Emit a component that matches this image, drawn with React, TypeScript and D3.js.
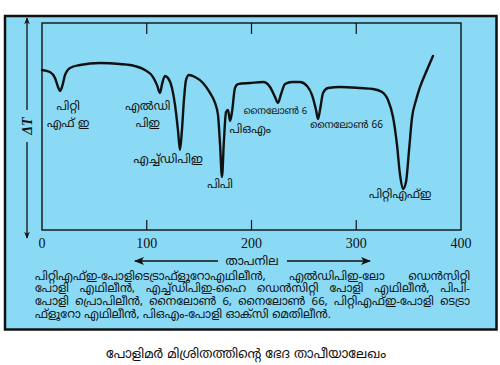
import React, { useLayoutEffect, useRef } from "react";
import * as d3 from "d3";

// DTA curve: temperature (°C) vs ΔT (arbitrary units)
const temps = [0, 7.6, 12.4, 15.3, 17.2, 19.1, 22.0, 26.7, 36.3, 55.4, 74.5, 88.8, 98.3, 106.0, 109.8, 112.6, 114.6, 117.4, 120.3, 124.1, 127.0, 129.8, 131.7, 133.6, 135.5, 137.5, 140.3, 146.1, 153.7, 160.4, 165.2, 168.0, 170.0, 171.8, 173.7, 175.7, 177.6, 179.5, 181.4, 184.2, 187.1, 198.6, 211.0, 217.7, 222.4, 225.3, 228.2, 232.0, 238.7, 246.3, 253.0, 257.8, 261.6, 263.5, 265.4, 268.3, 273.0, 284.5, 303.6, 316.0, 324.6, 330.3, 335.1, 338.9, 341.8, 344.6, 347.5, 350.4, 353.2, 357.1, 360.9, 367.5, 373.3];
const deltaT = [77.3, 76.3, 73.4, 69.1, 67.1, 69.1, 74.9, 78.3, 79.7, 80.7, 80.2, 79.2, 77.3, 73.9, 70.0, 66.2, 70.5, 74.4, 73.4, 68.6, 60.4, 48.3, 38.6, 48.3, 62.8, 72.5, 74.9, 73.9, 71.0, 66.2, 61.4, 55.6, 41.1, 25.6, 43.5, 57.0, 58.0, 52.7, 57.0, 68.6, 70.5, 71.0, 71.5, 69.1, 64.3, 61.4, 65.7, 70.5, 71.5, 71.5, 69.6, 65.2, 58.0, 53.6, 58.0, 66.2, 68.6, 69.1, 68.6, 68.1, 66.7, 62.8, 54.6, 41.1, 26.6, 19.8, 23.2, 38.6, 54.1, 62.8, 69.1, 77.3, 84.1];

const xTicks = [0, 100, 200, 300, 400];
const innerTicks = [100, 200, 300];

// peak labels: [temperature, ΔT, lines, anchor, size]
const peakLabels: { t: number; v: number; lines: string[]; anchor: string; size: number }[] = [
  { t: 25, v: 58, lines: ["പിറ്റി", "എഫ് ഇ"], anchor: "middle", size: 11.5 },
  { t: 101, v: 58, lines: ["എൽഡി", "പിഇ"], anchor: "middle", size: 11.5 },
  { t: 120.5, v: 32.5, lines: ["എച്ച്ഡിപിഇ"], anchor: "middle", size: 12 },
  { t: 170, v: 20.5, lines: ["പിപി"], anchor: "middle", size: 11.5 },
  { t: 179, v: 47, lines: ["പിഒഎം"], anchor: "start", size: 11.5 },
  { t: 192.5, v: 56, lines: ["നൈലോൺ 6"], anchor: "start", size: 9.5 },
  { t: 256, v: 49.5, lines: ["നൈലോൺ 66"], anchor: "start", size: 10 },
  { t: 342, v: 15.5, lines: ["പിറ്റിഎഫ്ഇ"], anchor: "middle", size: 11.5 },
];

const axisLabel = "താപനില";
const yLabel = "ΔT";
const legendLines = [
  "പിറ്റിഎഫ്ഇ-പോളിടെട്രാഫ്ളൂറോഎഥിലീൻ, എൽഡിപിഇ-ലോ ഡെൻസിറ്റി",
  "പോളി എഥിലീൻ, എച്ച്ഡിപിഇ-ഹൈ ഡെൻസിറ്റി പോളി എഥിലീൻ, പിപി-",
  "പോളി പ്രൊപിലീൻ, നൈലോൺ 6, നൈലോൺ 66, പിറ്റിഎഫ്ഇ-പോളി ടെട്രാ",
  "ഫ്ളൂറോ എഥിലീൻ, പിഒഎം-പോളി ഓക്സി മെതിലീൻ.",
];
const caption = "പോളിമർ മിശ്രിതത്തിന്റെ ഭേദ താപീയാലേഖം";

const ML = "'Noto Sans Malayalam', 'Noto Sans', 'DejaVu Sans', sans-serif";

export default function App() {
  const W = 500, H = 365;
  const plot = { left: 42, right: 461, top: 23, bottom: 230 };
  const x = d3.scaleLinear().domain([0, 400]).range([plot.left, plot.right]);
  const y = d3.scaleLinear().domain([0, 100]).range([plot.bottom, plot.top]);
  const pts = temps.map((t, i) => [t, deltaT[i]] as [number, number]);
  const line = d3
    .line<[number, number]>()
    .x((d) => x(d[0]))
    .y((d) => y(d[1]))
    .curve(d3.curveMonotoneX);

  const refs = useRef<(SVGTextElement | null)[]>([]);
  useLayoutEffect(() => {
    refs.current.forEach((el, i) => {
      if (!el || i >= 3) return;
      el.setAttribute("word-spacing", "0");
      const len = el.getComputedTextLength();
      const spaces = (legendLines[i].match(/ /g) || []).length;
      if (spaces > 0) el.setAttribute("word-spacing", String((435 - len) / spaces));
    });
  }, []);

  return (
    <svg width={W} height={H} style={{ position: "absolute", left: 0, top: 0 }}>
      <defs>
        <marker id="ah" viewBox="0 0 10 10" refX="9" refY="5" markerWidth="7" markerHeight="7" orient="auto-start-reverse" markerUnits="userSpaceOnUse">
          <path d="M0,1 L10,5 L0,9 L3,5 Z" fill="#111" />
        </marker>
        <marker id="ah2" viewBox="0 0 10 10" refX="9" refY="5" markerWidth="12" markerHeight="10" orient="auto-start-reverse" markerUnits="userSpaceOnUse">
          <path d="M0,1 L10,5 L0,9 L2.5,5 Z" fill="#111" />
        </marker>
      </defs>
      <rect x={0} y={0} width={W} height={H} fill="#fff" />
      <rect x={5} y={16} width={491.5} height={313.5} fill="#8adaf6" stroke="#111" strokeWidth={2.5} />

      {/* plot frame */}
      <rect x={plot.left} y={plot.top} width={plot.right - plot.left} height={plot.bottom - plot.top} fill="none" stroke="#111" strokeWidth={1.4} />
      {innerTicks.map((t) => (
        <g key={t}>
          <line x1={x(t)} x2={x(t)} y1={plot.bottom} y2={plot.bottom - 10} stroke="#111" strokeWidth={1.2} />
          <line x1={x(t)} x2={x(t)} y1={plot.top} y2={plot.top + 11} stroke="#111" strokeWidth={1.2} />
        </g>
      ))}
      {xTicks.map((t) => (
        <text key={t} x={x(t)} y={248} textAnchor="middle" fontFamily="'Liberation Serif', serif" fontSize={14} fill="#111">
          {t}
        </text>
      ))}

      {/* y arrow with ΔT */}
      <line x1={27} x2={27} y1={110} y2={18} stroke="#111" strokeWidth={1.3} markerEnd="url(#ah)" />
      <line x1={27} x2={27} y1={142} y2={238} stroke="#111" strokeWidth={1.3} markerEnd="url(#ah)" />
      <text x={0} y={0} transform="translate(32,126) rotate(-90)" textAnchor="middle" fontFamily="'Liberation Serif', serif" fontStyle="italic" fontWeight="bold" fontSize={14} fill="#111">
        {yLabel}
      </text>

      {/* curve */}
      <path d={line(pts) || ""} fill="none" stroke="#111" strokeWidth={2.4} strokeLinejoin="round" strokeLinecap="round" />

      {peakLabels.map((p, i) => (
        <text key={i} x={x(p.t)} y={y(p.v)} textAnchor={p.anchor as any} fontFamily={ML} fontSize={p.size} fill="#111">
          {p.lines.map((l, j) => (
            <tspan key={j} x={x(p.t)} dy={j === 0 ? 0 : 17}>
              {l}
            </tspan>
          ))}
        </text>
      ))}

      {/* temperature arrow */}
      <line x1={218} x2={135} y1={261} y2={261} stroke="#111" strokeWidth={1.3} markerEnd="url(#ah2)" />
      <line x1={287} x2={370} y1={261} y2={261} stroke="#111" strokeWidth={1.3} markerEnd="url(#ah2)" />
      <text x={252} y={265} textAnchor="middle" fontFamily={ML} fontSize={12} fill="#111">
        {axisLabel}
      </text>

      {legendLines.map((l, i) => (
        <text key={i} ref={(el) => { refs.current[i] = el; }} x={35} y={279.5 + i * 12.7} fontFamily={ML} fontSize={11.5} fill="#111">
          {l}
        </text>
      ))}

      <text x={246} y={358} textAnchor="middle" fontFamily={ML} fontSize={13} fill="#111">
        {caption}
      </text>
    </svg>
  );
}
